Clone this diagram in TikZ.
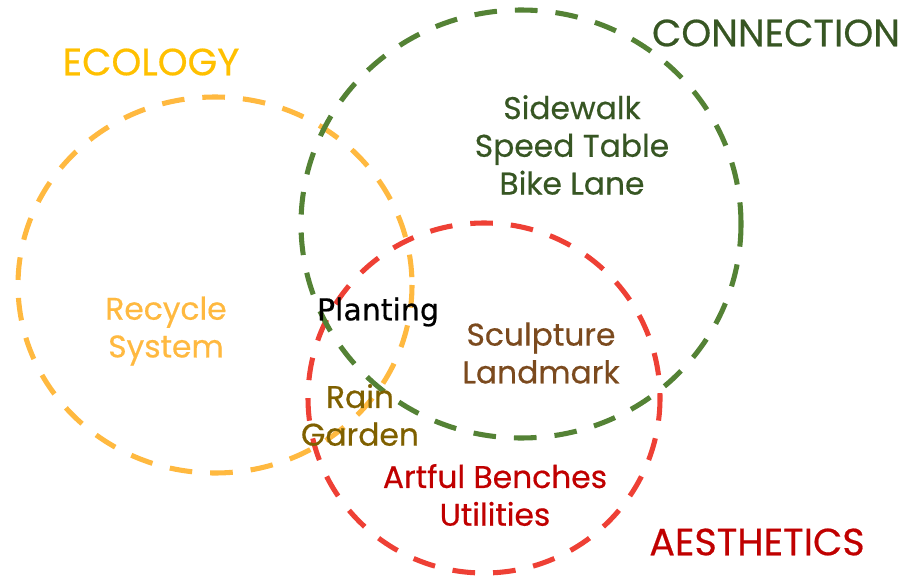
\documentclass[tikz,border=0pt]{standalone}
\usepackage{fontspec}
\setmainfont{Poppins}[FakeBold=0.5]
\newfontfamily\plantfont{DejaVu Sans}[FakeBold=0.6]
\definecolor{ecoC}{HTML}{FFC000}
\definecolor{ecoRing}{HTML}{FFB940}
\definecolor{conC}{HTML}{375623}
\definecolor{conRing}{HTML}{548235}
\definecolor{aesC}{HTML}{C00000}
\definecolor{aesRing}{HTML}{EE4035}
\definecolor{brownC}{HTML}{7B4A1E}
\definecolor{oliveC}{HTML}{7F6000}
\tikzset{
  ring/.style={line width=3.8pt, dash pattern=on 17pt off 13.5pt},
  title/.style={font=\fontsize{28.5}{30}\selectfont, inner sep=0pt},
  item/.style={font=\fontsize{23.5}{28.3}\selectfont, align=center, inner sep=0pt}
}
\begin{document}
\begin{tikzpicture}[x=0.75pt,y=-0.75pt]
\useasboundingbox (0,0) rectangle (912,581);
\draw[ring, aesRing] (484,398) ellipse [x radius=176, y radius=175];
\draw[ring, ecoRing] (215,285) ellipse [x radius=197, y radius=188];
\draw[ring, conRing] (521,224) ellipse [x radius=220, y radius=214];
\node[title, text=ecoC] (eco) at (151,62) {ECOLOGY};
\node[title, text=conC] (con) at (776,33) {CONNECTION};
\node[title, text=aesC] (aes) at (757,542) {AESTHETICS};
\node[item, text=conC] (conitems) at (572,145) {Sidewalk\\Speed Table\\Bike Lane};
\node[item, text=ecoRing] (recycle) at (166,331) {Recycle\\System};
\node[item, text=black, font=\plantfont\fontsize{22.5}{26}\selectfont] (planting) at (378,312) {Planting};
\node[item, text=brownC] (sculpt) at (541,353) {Sculpture\\Landmark};
\node[item, text=oliveC] (rain) at (360,415) {Rain\\Garden};
\node[item, text=aesC] (art) at (495,495) {Artful Benches\\Utilities};
\end{tikzpicture}
\end{document}
